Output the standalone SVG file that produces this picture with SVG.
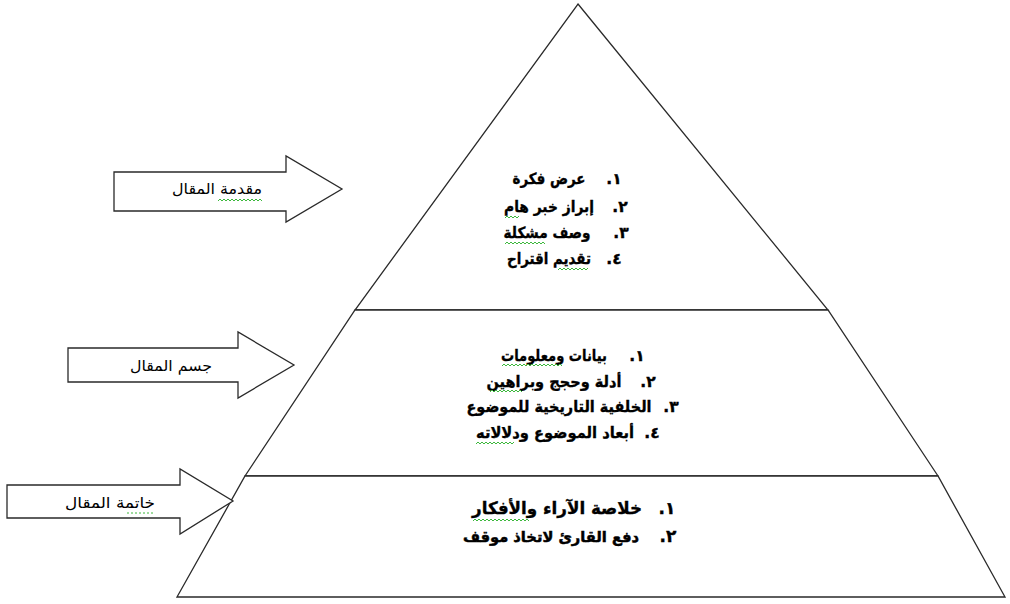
<svg xmlns="http://www.w3.org/2000/svg" width="1010" height="604" viewBox="0 0 1010 604">
<style>
.shape{fill:#fff;stroke:#2a2a2a;stroke-width:1.3;stroke-linejoin:miter}
.t{font-family:"DejaVu Sans",sans-serif;font-weight:bold;font-size:15.5px;fill:#000;stroke:#000;stroke-width:0.35;text-anchor:middle}
.t3{font-size:17px}
.t3b{font-size:15px;stroke-width:0.5}
.n{direction:rtl;unicode-bidi:embed}
.lbl{font-family:"DejaVu Sans",sans-serif;font-size:15px;fill:#000;text-anchor:middle}
.sq{fill:none;stroke:#3cb83c;stroke-width:1}
</style>
<rect width="1010" height="604" fill="#fff"/>
<g id="pyramid-top">
<polygon class="shape" points="578,4 828,310 355,310"/>
<text class="t n" x="614" y="184">١.</text>
<text class="t" x="549" y="184" textLength="73" lengthAdjust="spacingAndGlyphs">عرض فكرة</text>
<text class="t n" x="620" y="212">٢.</text>
<text class="t" x="549" y="212" textLength="90" lengthAdjust="spacingAndGlyphs">إبراز خبر هام</text>
<text class="t n" x="621" y="238">٣.</text>
<text class="t" x="547" y="238" textLength="87" lengthAdjust="spacingAndGlyphs">وصف مشكلة</text>
<text class="t n" x="614" y="264">٤.</text>
<text class="t" x="549" y="264" textLength="84" lengthAdjust="spacingAndGlyphs">تقديم اقتراح</text>
<path class="sq" d="M505,218 l2,-2 2,2 2,-2 2,2 2,-2 2,2 2,-2"/>
<path class="sq" d="M505,244 l2,-2 2,2 2,-2 2,2 2,-2 2,2 2,-2 2,2 2,-2 2,2 2,-2 2,2 2,-2 2,2 2,-2 2,2 2,-2 2,2 2,-2 2,2"/>
<path class="sq" d="M558,270 l2,-2 2,2 2,-2 2,2 2,-2 2,2 2,-2 2,2 2,-2 2,2 2,-2 2,2 2,-2 2,2 2,-2"/>
</g>
<g id="pyramid-middle">
<polygon class="shape" points="355,310 828,310 938,476 245,476"/>
<text class="t n" x="637" y="361">١.</text>
<text class="t" x="554" y="361" textLength="106" lengthAdjust="spacingAndGlyphs">بيانات ومعلومات</text>
<text class="t n" x="648" y="387">٢.</text>
<text class="t" x="554" y="387" textLength="135" lengthAdjust="spacingAndGlyphs">أدلة وحجج وبراهين</text>
<text class="t n" x="671" y="412">٣.</text>
<text class="t" x="559" y="412" textLength="185" lengthAdjust="spacingAndGlyphs">الخلفية التاريخية للموضوع</text>
<text class="t n" x="652" y="438">٤.</text>
<text class="t" x="555" y="438" textLength="158" lengthAdjust="spacingAndGlyphs">أبعاد الموضوع ودلالاته</text>
<path class="sq" d="M502,366 l2,-2 2,2 2,-2 2,2 2,-2 2,2 2,-2 2,2 2,-2 2,2 2,-2 2,2 2,-2 2,2 2,-2 2,2 2,-2 2,2 2,-2 2,2 2,-2 2,2 2,-2 2,2 2,-2 2,2 2,-2 2,2 2,-2 2,2"/>
<path class="sq" d="M490,392 l2,-2 2,2 2,-2 2,2 2,-2 2,2 2,-2 2,2 2,-2 2,2 2,-2 2,2 2,-2 2,2 2,-2 2,2"/>
<path class="sq" d="M476,444 l2,-2 2,2 2,-2 2,2 2,-2 2,2 2,-2 2,2 2,-2 2,2 2,-2 2,2 2,-2 2,2 2,-2 2,2 2,-2 2,2 2,-2"/>
</g>
<g id="pyramid-bottom">
<polygon class="shape" points="245,476 938,476 1005,597 177,597"/>
<text class="t t3 n" x="667" y="514">١.</text>
<text class="t t3" x="557" y="514" textLength="170" lengthAdjust="spacingAndGlyphs">خلاصة الآراء والأفكار</text>
<text class="t t3 n" x="668" y="542">٢.</text>
<text class="t t3b" x="551" y="542" textLength="176" lengthAdjust="spacingAndGlyphs">دفع القارئ لاتخاذ موقف</text>
<path class="sq" d="M473,521 l2,-2 2,2 2,-2 2,2 2,-2 2,2 2,-2 2,2 2,-2 2,2 2,-2 2,2 2,-2 2,2 2,-2 2,2 2,-2 2,2 2,-2 2,2 2,-2 2,2 2,-2 2,2 2,-2 2,2 2,-2 2,2"/>
</g>
<g id="connectors">
<g id="arrow-intro">
<polygon class="shape" points="114,172 286,172 286,156 342,189 286,222 286,211 114,211"/>
<text class="lbl" x="217" y="194" textLength="90" lengthAdjust="spacingAndGlyphs">مقدمة المقال</text>
<path class="sq" d="M218,201 l2,-2 2,2 2,-2 2,2 2,-2 2,2 2,-2 2,2 2,-2 2,2 2,-2 2,2 2,-2 2,2 2,-2 2,2 2,-2 2,2 2,-2 2,2 2,-2 2,2"/>
</g>
<g id="arrow-body">
<polygon class="shape" points="68,348 238,348 238,332 294,365 238,398 238,382 68,382"/>
<text class="lbl" x="171" y="371" textLength="82" lengthAdjust="spacingAndGlyphs">جسم المقال</text>
</g>
<g id="arrow-conclusion">
<polygon class="shape" points="7,485 180,485 180,469 233,501 180,534 180,518 7,518"/>
<text class="lbl" x="110" y="508" textLength="90" lengthAdjust="spacingAndGlyphs">خاتمة المقال</text>
<path class="sq" d="M127,513 h28" stroke-dasharray="2,2"/>
</g>
</g>
</svg>
